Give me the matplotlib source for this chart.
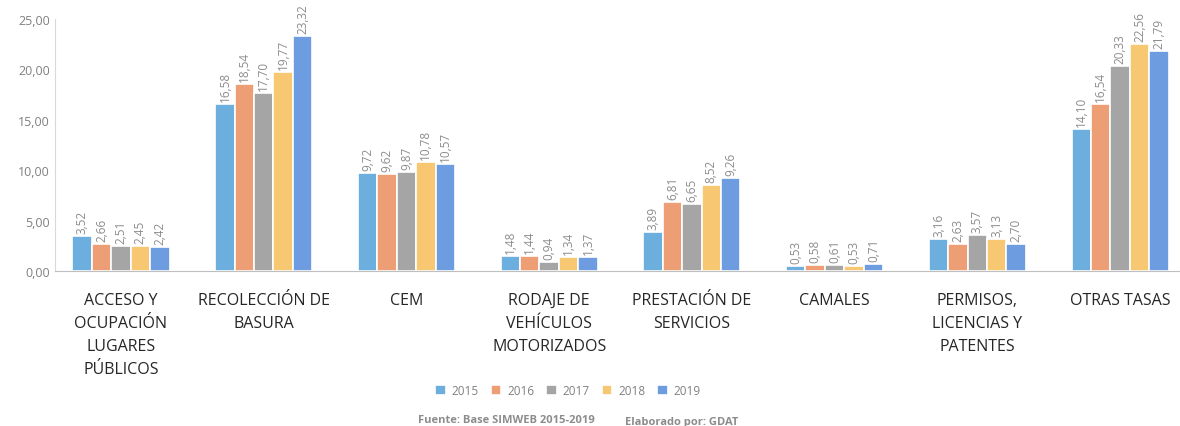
import matplotlib.pyplot as plt
import numpy as np

categories = ['ACCESO Y\nOCUPACIÓN\nLUGARES\nPÚBLICOS', 'RECOLECCIÓN DE\nBASURA', 'CEM',
              'RODAJE DE\nVEHÍCULOS\nMOTORIZADOS', 'PRESTACIÓN DE\nSERVICIOS', 'CAMALES',
              'PERMISOS,\nLICENCIAS Y\nPATENTES', 'OTRAS TASAS']
years = ['2015', '2016', '2017', '2018', '2019']
v2015 = [3.52, 16.58, 9.72, 1.48, 3.89, 0.53, 3.16, 14.10]
v2016 = [2.66, 18.54, 9.62, 1.44, 6.81, 0.58, 2.63, 16.54]
v2017 = [2.51, 17.70, 9.87, 0.94, 6.65, 0.61, 3.57, 20.33]
v2018 = [2.45, 19.77, 10.78, 1.34, 8.52, 0.53, 3.13, 22.56]
v2019 = [2.42, 23.32, 10.57, 1.37, 9.26, 0.71, 2.70, 21.79]
series = [v2015, v2016, v2017, v2018, v2019]
colors = ['#6CAEDE', '#EE9E74', '#A5A5A5', '#F7C771', '#6E9CE0']

plt.rcParams['font.family'] = ['Open Sans', 'DejaVu Sans']

fig = plt.figure(figsize=(11.8, 4.27), dpi=100)
ax = fig.add_axes([0.0466, 0.363, 0.9534, 0.59])

x = np.arange(len(categories))
w = 0.136
for i, (vals, c) in enumerate(zip(series, colors)):
    pos = x + (i - 2) * w
    ax.bar(pos, vals, width=w, color=c, edgecolor='white', linewidth=1.2, label=years[i])
    for p, v in zip(pos, vals):
        ax.text(p, v + 0.3, f'{v:.2f}'.replace('.', ','), rotation=90, ha='center', va='bottom',
                fontsize=8.5, color='#8C8C8C')

ax.set_ylim(0, 25)
ax.set_xlim(-0.4625, 7.42)
ax.set_yticks(np.arange(0, 26, 5))
ax.set_yticklabels([f'{t:.2f}'.replace('.', ',') for t in np.arange(0, 26, 5)], fontsize=9, color='#808080')
ax.set_xticks(x)
ax.set_xticklabels(categories, fontsize=11.5, color='#262626', linespacing=1.6, va='top')
ax.tick_params(axis='both', length=0)
ax.tick_params(axis='x', pad=15)
for s in ['top', 'right']:
    ax.spines[s].set_visible(False)
ax.spines['left'].set_color('#D9D9D9')
ax.spines['bottom'].set_color('#BFBFBF')

ax.legend(loc='center', bbox_to_anchor=(0.456, -0.476), ncol=5, frameon=False, fontsize=8.5,
          handlelength=0.9, handleheight=0.9, columnspacing=1.0, handletextpad=0.5,
          labelcolor='#808080')

fig.text(0.429, 0.002, 'Fuente: Base SIMWEB 2015-2019', ha='center', va='bottom', fontsize=8,
         fontweight='bold', color='#8C8C8C')
fig.text(0.578, -0.002, 'Elaborado por: GDAT', ha='center', va='bottom', fontsize=8,
         fontweight='bold', color='#8C8C8C')

fig.savefig('out.png', dpi=100)
